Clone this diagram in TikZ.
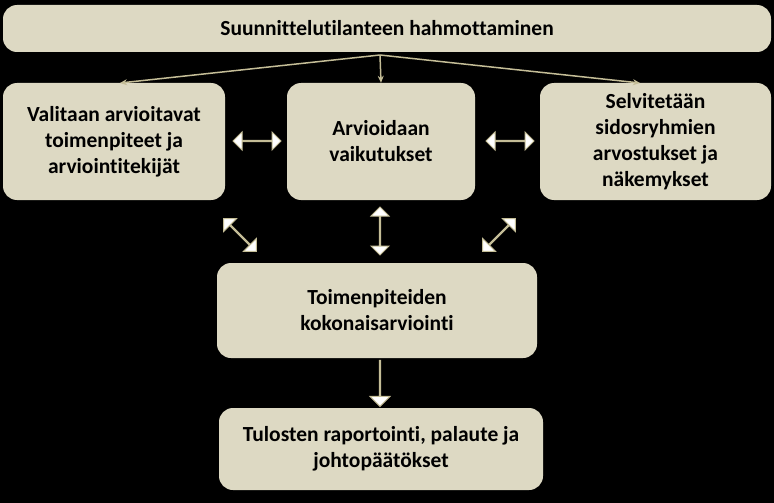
\documentclass[tikz,border=0pt]{standalone}
\usepackage{fontspec}
\setmainfont[Ligatures=NoCommon]{Carlito}
\usetikzlibrary{shapes.arrows,arrows.meta}
\definecolor{bx}{HTML}{DDD9C3}
\definecolor{ln}{HTML}{C4BD97}
\tikzset{
 box/.style={fill=bx,rounded corners=14pt,align=center,font=\fontsize{21.5}{26}\selectfont\bfseries,inner sep=0pt},
 dbl/.style={double arrow,fill=white,draw=ln,line width=1pt,minimum height=#1,minimum width=18pt,double arrow head extend=7pt,inner sep=0pt},
 sgl/.style={single arrow,fill=white,draw=ln,line width=1pt,minimum height=#1,minimum width=20pt,single arrow head extend=7pt,inner sep=0pt},
 ln/.style={draw=ln,line width=1.5pt,-{Stealth[length=7pt,width=6pt]}}
}
\begin{document}
\begin{tikzpicture}[x=1pt,y=-1pt]
\fill[black] (0,0) rectangle (774,503);
\useasboundingbox (0,0) rectangle (774,503);
\node[box,minimum width=768pt,minimum height=47pt] (top) at (387,28.5) {Suunnittelutilanteen hahmottaminen};
\node[box,minimum width=222pt,minimum height=117pt] (l) at (114,141.5) {Valitaan arvioitavat\\toimenpiteet ja\\arviointitekijät};
\node[box,minimum width=188pt,minimum height=117pt] (m) at (381,141.5) {Arvioidaan\\vaikutukset};
\node[box,minimum width=231pt,minimum height=117pt] (r) at (655.5,141.5) {Selvitetään\\sidosryhmien\\arvostukset ja\\näkemykset};
\node[box,minimum width=320pt,minimum height=95pt] (k) at (377,310.5) {Toimenpiteiden\\kokonaisarviointi};
\node[box,minimum width=324pt,minimum height=82pt] (t) at (381,449) {Tulosten raportointi, palaute ja\\johtopäätökset};
\coordinate (s) at (380,55);
\draw[ln] (s) -- (120,83);
\draw[ln] (s) -- (m.north);
\draw[ln] (s) -- (640,83);
\node[dbl=48pt] (a1) at (257,141) {};
\node[dbl=48pt] (a2) at (510,141) {};
\node[dbl=48pt,rotate=90] (a3) at (380,231) {};
\node[dbl=46pt,rotate=-45] (a4) at (240,235) {};
\node[dbl=46pt,rotate=45] (a5) at (499,235) {};
\node[sgl=46pt,rotate=-90] (a6) at (380,383) {};
\end{tikzpicture}
\end{document}
